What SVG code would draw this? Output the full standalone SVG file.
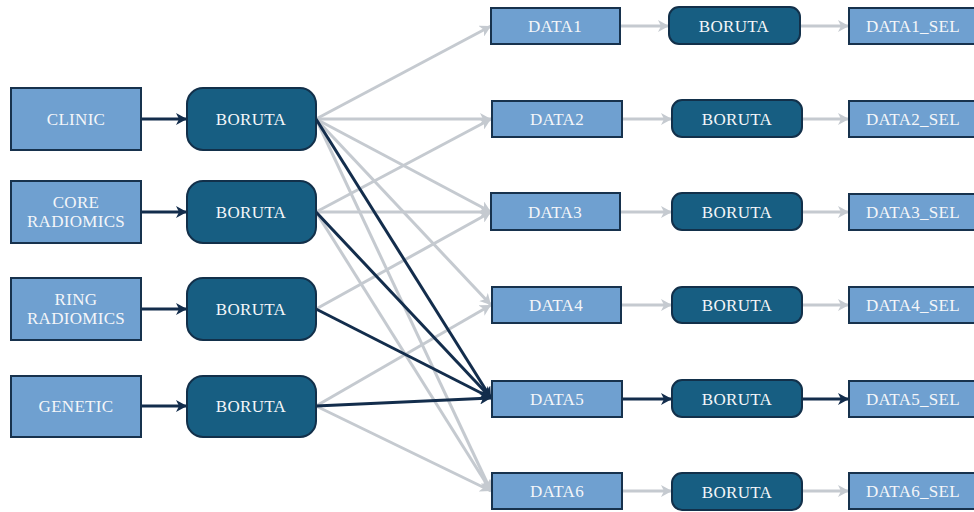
<svg xmlns="http://www.w3.org/2000/svg" width="974" height="512" viewBox="0 0 974 512">
<style>
.box{fill:#6fa0d0;stroke:#17324d;stroke-width:2}
.bor{fill:#175e82;stroke:#12304a;stroke-width:2}
.t{font-family:'Liberation Serif','DejaVu Serif','Times New Roman',serif;font-size:17px;letter-spacing:0.3px;fill:#f4f6f9;text-anchor:middle}
.g{stroke:#c5cad0;stroke-width:3;fill:none;marker-end:url(#ag)}
.d{stroke:#132d4c;stroke-width:3;fill:none;marker-end:url(#ad)}
</style>
<defs>
<marker id="ag" markerUnits="userSpaceOnUse" markerWidth="12" markerHeight="12" refX="11" refY="6" orient="auto"><path d="M0,0 L11,6 L0,12 L3,6 Z" fill="#c5cad0"/></marker>
<marker id="ad" markerUnits="userSpaceOnUse" markerWidth="12" markerHeight="12" refX="11" refY="6" orient="auto"><path d="M0,0 L11,6 L0,12 L3,6 Z" fill="#132d4c"/></marker>
</defs>
<rect width="974" height="512" fill="#ffffff"/>
<g id="connectors">
<path class="d" d="M141,119 L187,119"/>
<path class="d" d="M141,212 L187,212"/>
<path class="d" d="M141,309 L187,309"/>
<path class="d" d="M141,406 L187,406"/>
<path class="g" d="M316,119 L491,26"/>
<path class="g" d="M316,119 L491,119"/>
<path class="g" d="M316,119 L491,212"/>
<path class="g" d="M316,119 L491,305"/>
<path class="g" d="M316,119 L491,491"/>
<path class="g" d="M316,212 L491,119"/>
<path class="g" d="M316,212 L491,212"/>
<path class="g" d="M316,212 L491,491"/>
<path class="g" d="M316,309 L491,212"/>
<path class="g" d="M316,406 L491,305"/>
<path class="g" d="M316,406 L491,491"/>
<path class="d" d="M316,119 L491,398"/>
<path class="d" d="M316,212 L491,398"/>
<path class="d" d="M316,309 L491,398"/>
<path class="d" d="M316,406 L491,398"/>
<path class="g" d="M620,26 L669,26"/>
<path class="g" d="M622,119 L672,119"/>
<path class="g" d="M620,212 L672,212"/>
<path class="g" d="M621,305 L672,305"/>
<path class="d" d="M622,399 L672,399"/>
<path class="g" d="M622,491 L672,491"/>
<path class="g" d="M800,26 L849,26"/>
<path class="g" d="M802,119 L849,119"/>
<path class="g" d="M802,212 L849,212"/>
<path class="g" d="M802,305 L849,305"/>
<path class="d" d="M802,399 L849,399"/>
<path class="g" d="M802,491 L849,491"/>
</g>
<g id="clinic"><rect class="box" x="11" y="88" width="130" height="62"/><text class="t" x="76" y="125">CLINIC</text></g>
<g id="core"><rect class="box" x="11" y="181" width="130" height="62"/><text class="t" x="76" y="208">CORE</text><text class="t" x="76" y="227">RADIOMICS</text></g>
<g id="ring"><rect class="box" x="11" y="278" width="130" height="62"/><text class="t" x="76" y="305">RING</text><text class="t" x="76" y="324">RADIOMICS</text></g>
<g id="genetic"><rect class="box" x="11" y="376" width="130" height="61"/><text class="t" x="76" y="412">GENETIC</text></g>
<g id="boruta1"><rect class="bor" x="187" y="88" width="129" height="62" rx="16"/><text class="t" x="251" y="125">BORUTA</text></g>
<g id="boruta2"><rect class="bor" x="187" y="181" width="129" height="62" rx="16"/><text class="t" x="251" y="218">BORUTA</text></g>
<g id="boruta3"><rect class="bor" x="187" y="278" width="129" height="62" rx="16"/><text class="t" x="251" y="315">BORUTA</text></g>
<g id="boruta4"><rect class="bor" x="187" y="376" width="129" height="61" rx="16"/><text class="t" x="251" y="412">BORUTA</text></g>
<g id="data1"><rect class="box" x="491" y="8" width="129" height="36"/><text class="t" x="555" y="32">DATA1</text></g>
<g id="data2"><rect class="box" x="492" y="101" width="130" height="36"/><text class="t" x="557" y="125">DATA2</text></g>
<g id="data3"><rect class="box" x="491" y="193" width="129" height="37"/><text class="t" x="555" y="218">DATA3</text></g>
<g id="data4"><rect class="box" x="492" y="287" width="129" height="36"/><text class="t" x="556" y="311">DATA4</text></g>
<g id="data5"><rect class="box" x="492" y="381" width="130" height="36"/><text class="t" x="557" y="405">DATA5</text></g>
<g id="data6"><rect class="box" x="492" y="473" width="130" height="36"/><text class="t" x="557" y="497">DATA6</text></g>
<g id="boruta_r1"><rect class="bor" x="669" y="7" width="131" height="37" rx="10"/><text class="t" x="734" y="32">BORUTA</text></g>
<g id="boruta_r2"><rect class="bor" x="672" y="100" width="130" height="37" rx="10"/><text class="t" x="737" y="125">BORUTA</text></g>
<g id="boruta_r3"><rect class="bor" x="672" y="193" width="130" height="37" rx="10"/><text class="t" x="737" y="218">BORUTA</text></g>
<g id="boruta_r4"><rect class="bor" x="672" y="287" width="130" height="36" rx="10"/><text class="t" x="737" y="311">BORUTA</text></g>
<g id="boruta_r5"><rect class="bor" x="672" y="380" width="130" height="37" rx="10"/><text class="t" x="737" y="405">BORUTA</text></g>
<g id="boruta_r6"><rect class="bor" x="672" y="473" width="130" height="37" rx="10"/><text class="t" x="737" y="498">BORUTA</text></g>
<g id="data1_sel"><rect class="box" x="849" y="8" width="130" height="36"/><text class="t" x="913" y="32">DATA1_SEL</text></g>
<g id="data2_sel"><rect class="box" x="849" y="101" width="130" height="36"/><text class="t" x="913" y="125">DATA2_SEL</text></g>
<g id="data3_sel"><rect class="box" x="849" y="194" width="130" height="36"/><text class="t" x="913" y="218">DATA3_SEL</text></g>
<g id="data4_sel"><rect class="box" x="849" y="287" width="130" height="36"/><text class="t" x="913" y="311">DATA4_SEL</text></g>
<g id="data5_sel"><rect class="box" x="849" y="381" width="130" height="36"/><text class="t" x="913" y="405">DATA5_SEL</text></g>
<g id="data6_sel"><rect class="box" x="849" y="473" width="130" height="36"/><text class="t" x="913" y="497">DATA6_SEL</text></g>
</svg>
